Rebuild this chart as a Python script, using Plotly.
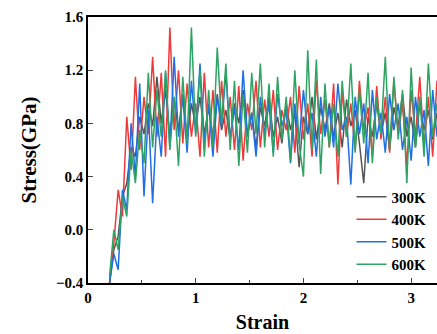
import plotly.graph_objects as go

strain = [0.20, 0.24, 0.28, 0.32, 0.36, 0.40, 0.44, 0.48, 0.52, 0.56,
          0.60, 0.64, 0.68, 0.72, 0.76, 0.80, 0.84, 0.88, 0.92, 0.96,
          1.00, 1.04, 1.08, 1.12, 1.16, 1.20, 1.24, 1.28, 1.32, 1.36,
          1.40, 1.44, 1.48, 1.52, 1.56, 1.60, 1.64, 1.68, 1.72, 1.76,
          1.80, 1.84, 1.88, 1.92, 1.96, 2.00, 2.04, 2.08, 2.12, 2.16,
          2.20, 2.24, 2.28, 2.32, 2.36, 2.40, 2.44, 2.48, 2.52, 2.56,
          2.60, 2.64, 2.68, 2.72, 2.76, 2.80, 2.84, 2.88, 2.92, 2.96,
          3.00, 3.04, 3.08, 3.12, 3.16, 3.20, 3.24]

s300 = [-0.40, -0.15, -0.05, 0.25, 0.35, 0.62, 0.55, 0.85, 0.72, 0.95,
        0.78, 1.15, 0.80, 1.05, 0.70, 0.98, 0.75, 1.02, 0.68, 0.95,
        0.78, 1.00, 0.72, 0.92, 0.70, 1.02, 0.75, 0.90, 0.68, 0.95,
        0.80, 1.05, 0.72, 0.88, 0.62, 0.92, 0.78, 1.00, 0.70, 0.85,
        0.65, 0.95, 0.75, 0.88, 0.47, 0.85, 0.72, 1.00, 0.68, 0.92,
        0.75, 0.95, 0.70, 0.88, 0.62, 0.98, 0.78, 0.90, 0.65, 0.35,
        0.85, 0.70, 0.95, 0.72, 0.88, 0.60, 0.92, 0.78, 1.02, 0.70,
        0.85, 0.62, 0.95, 0.75, 0.90, 0.68, 0.88]

s400 = [-0.40, -0.10, 0.30, 0.10, 0.85, 0.45, 1.15, 0.60, 1.00, 0.72,
        1.30, 0.70, 1.18, 0.55, 1.52, 0.75, 1.20, 0.65, 1.10, 0.70,
        0.95, 0.55, 1.18, 0.62, 1.05, 0.58, 1.12, 0.70, 1.00, 0.60,
        1.08, 0.52, 0.95, 0.75, 1.12, 0.62, 0.98, 0.70, 1.05, 0.60,
        0.90, 0.75, 1.00, 0.58, 1.08, 0.68, 0.95, 0.55, 1.12, 0.72,
        0.98, 0.62, 1.10, 0.34, 1.05, 0.70, 0.95, 0.60, 1.12, 0.75,
        0.92, 0.55, 1.08, 0.68, 1.00, 0.58, 1.12, 0.72, 0.95, 0.48,
        1.05, 0.70, 1.15, 0.62, 1.00, 0.55, 1.12]

s500 = [-0.40, -0.18, -0.30, 0.30, 0.15, 0.80, 0.40, 1.10, 0.25, 0.90,
        0.20, 0.85, 0.55, 1.18, 0.62, 1.30, 0.70, 1.00, 0.58, 1.12,
        0.72, 1.25, 0.65, 0.95, 0.55, 1.00, 0.78, 1.18, 0.68, 0.92,
        0.60, 1.20, 0.70, 0.88, 0.55, 1.00, 0.72, 0.95, 0.58, 1.02,
        0.78, 0.90, 0.50, 0.95, 0.65, 1.05, 0.72, 0.88, 0.55, 1.00,
        0.70, 0.92, 0.62, 1.10, 0.75, 0.85, 0.34, 1.00, 0.72, 0.95,
        0.50, 1.05, 0.68, 0.88, 0.58, 1.02, 0.75, 0.95, 0.60, 0.85,
        0.52, 1.00, 0.70, 0.90, 0.48, 1.05, 0.70]

s600 = [-0.35, 0.00, -0.15, 0.25, 0.10, 0.60, 0.35, 0.75, 0.50, 1.18,
        0.62, 1.05, 0.70, 1.20, 0.60, 1.00, 0.48, 1.15, 0.65, 1.52,
        0.70, 1.20, 0.55, 1.05, 0.62, 1.37, 0.80, 1.25, 0.60, 1.12,
        0.48, 1.02, 0.58, 1.18, 0.72, 1.25, 0.62, 1.10, 0.55, 1.15,
        0.68, 1.00, 0.52, 1.20, 0.65, 0.40, 1.35, 0.60, 1.28, 0.42,
        1.10, 0.62, 0.95, 0.55, 1.12, 0.70, 1.25, 0.58, 1.05, 0.65,
        1.18, 0.50, 1.00, 0.72, 1.30, 0.60, 1.15, 0.68, 1.05, 0.35,
        1.22, 0.62, 1.00, 0.55, 1.25, 0.70, 0.95]

names = ["300K", "400K", "500K", "600K"]
colors = ["#555555", "#f03a3a", "#1f6fe5", "#2ea363"]
series = [s300, s400, s500, s600]

fig = go.Figure()
for n, c, s in zip(names, colors, series):
    fig.add_trace(go.Scatter(x=strain, y=s, mode="lines", name=n,
                             line=dict(color=c, width=1.5)))

font_family = "Liberation Serif"
fig.update_layout(
    width=437, height=334,
    margin=dict(l=88, r=0, t=17, b=51, autoexpand=False),
    plot_bgcolor="white", paper_bgcolor="white",
    font=dict(family=font_family, size=15, color="black", weight="bold"),
    showlegend=True,
    legend=dict(x=0.755, y=0.385, xanchor="left", yanchor="top",
                bgcolor="rgba(0,0,0,0)", font=dict(size=15, weight="bold"),
                tracegroupgap=0),
    xaxis=dict(range=[0, 3.24], showline=True, linecolor="black", linewidth=1.5,
               mirror=True, ticks="inside", ticklen=5, tickwidth=1.2,
               tickvals=[0, 1, 2, 3], showgrid=False, zeroline=False,
               automargin=False,
               minor=dict(ticks="inside", ticklen=3, tickvals=[0.5, 1.5, 2.5],
                          showgrid=False),
               title=dict(text="Strain", font=dict(size=20, weight="bold"),
                          standoff=10)),
    yaxis=dict(range=[-0.4, 1.6], showline=True, linecolor="black", linewidth=1.5,
               mirror=False, ticks="inside", ticklen=5, tickwidth=1.2,
               tickvals=[-0.4, 0.0, 0.4, 0.8, 1.2, 1.6], tickformat=".1f",
               showgrid=False, zeroline=False, automargin=False,
               title=dict(text="Stress(GPa)", font=dict(size=21, weight="bold"),
                          standoff=14)),
)

fig.write_html("out.html")
